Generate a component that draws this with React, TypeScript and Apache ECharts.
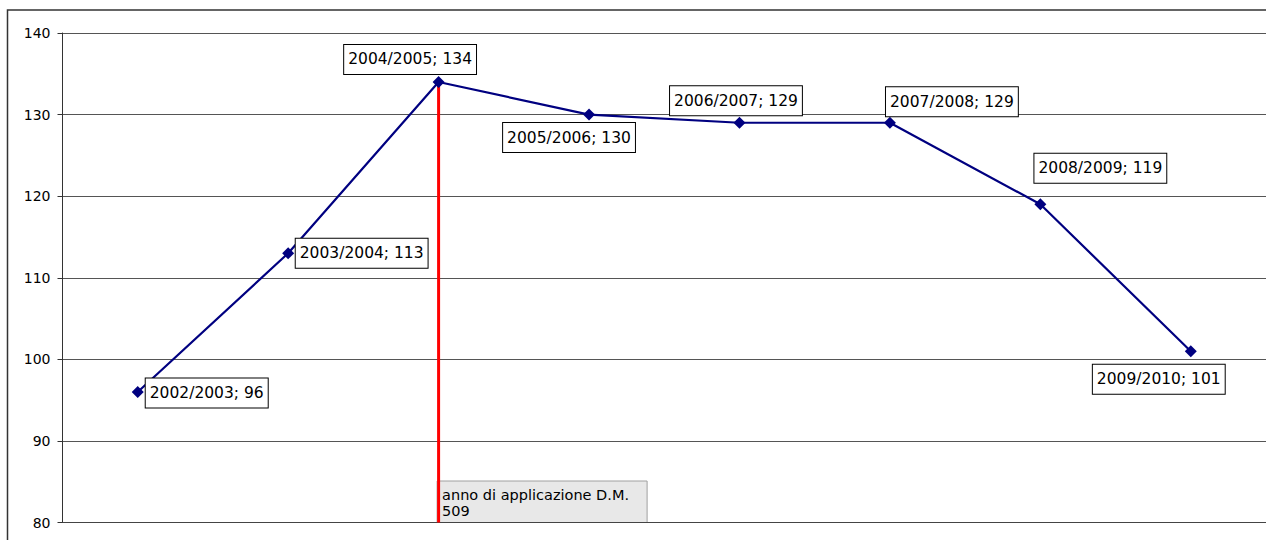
import React, { useEffect, useRef } from "react";
import * as echarts from "echarts";

const categories = [
  "2002/2003",
  "2003/2004",
  "2004/2005",
  "2005/2006",
  "2006/2007",
  "2007/2008",
  "2008/2009",
  "2009/2010",
];
const values = [96, 113, 134, 130, 129, 129, 119, 101];

const yMin = 80;
const yMax = 140;
const yInterval = 10;

const markerCategory = "2004/2005";
const markerTop = 134;
const markerBottom = 80;
const annotationText = "anno di applicazione D.M.\n509";

// label box centre offsets relative to each point (styling only)
const labelOffsets: [number, number][] = [
  [69, 1],
  [73.5, 0],
  [-28.5, -22.5],
  [-20, 23],
  [-3.5, -22],
  [62, -21],
  [60, -36],
  [-32, 28],
];

const FONT = "'DejaVu Sans', Verdana, sans-serif";

export default function App() {
  const ref = useRef<HTMLDivElement>(null);

  useEffect(() => {
    if (!ref.current) return;
    const chart = echarts.init(ref.current, undefined, { renderer: "svg" });

    const option: any = {
      animation: false,
      backgroundColor: "#ffffff",
      grid: { left: 62.5, top: 33, right: 0, bottom: 17.5, containLabel: false },
      xAxis: {
        type: "category",
        data: categories,
        boundaryGap: true,
        axisLine: { show: true, lineStyle: { color: "#444", width: 1 } },
        axisTick: { show: false },
        axisLabel: { show: false },
        splitLine: { show: false },
      },
      yAxis: {
        type: "value",
        min: yMin,
        max: yMax,
        interval: yInterval,
        axisLine: { show: true, lineStyle: { color: "#333", width: 1 } },
        axisTick: { show: true, length: 5, lineStyle: { color: "#333" } },
        axisLabel: {
          color: "#000",
          fontSize: 14,
          fontFamily: FONT,
          margin: 12,
        },
        splitLine: { show: true, lineStyle: { color: "#555", width: 1 } },
      },
      series: [
        {
          type: "line",
          z: 1,
          data: [
            [markerCategory, markerTop],
            [markerCategory, markerBottom],
          ],
          symbol: "none",
          lineStyle: { color: "#ff0000", width: 3 },
          label: { show: false },
          silent: true,
        },
        {
          type: "line",
          z: 3,
          data: values.map((v, i) => ({
            value: v,
            label: { offset: labelOffsets[i] },
          })),
          symbol: "diamond",
          symbolSize: 12,
          itemStyle: { color: "#000080" },
          lineStyle: { color: "#000080", width: 2.2 },
          label: {
            show: true,
            position: "inside",
            formatter: "{b}; {c}",
            color: "#000",
            fontSize: 15.5,
            fontFamily: FONT,
            lineHeight: 18,
            backgroundColor: "#ffffff",
            borderColor: "#000",
            borderWidth: 1,
            padding: [6, 4, 5, 4],
          },
        },
      ],
    };
    chart.setOption(option);

    const p = chart.convertToPixel({ xAxisIndex: 0, yAxisIndex: 0 }, [
      markerCategory,
      markerBottom,
    ]) as number[];

    chart.setOption({
      graphic: [
        {
          type: "polyline",
          z: 100,
          shape: {
            points: [
              [7.5, 540],
              [7.5, 10],
              [1266, 10],
            ],
          },
          style: { fill: "none", stroke: "#333", lineWidth: 1.5 },
          silent: true,
        },
        {
          type: "group",
          z: 50,
          x: p[0] - 1.5,
          y: p[1] - 41.5,
          children: [
            {
              type: "rect",
              shape: { x: 0, y: 0, width: 210, height: 41.5 },
              style: { fill: "#e8e8e8", stroke: "#a0a0a0", lineWidth: 1 },
            },
            {
              type: "text",
              x: 5,
              y: 6,
              style: {
                text: annotationText,
                fill: "#000",
                fontSize: 14.5,
                fontFamily: FONT,
                lineHeight: 16,
              },
            },
          ],
        },
      ],
    });

    return () => chart.dispose();
  }, []);

  return (
    <div
      ref={ref}
      style={{
        position: "absolute",
        left: 0,
        top: 0,
        width: 1266,
        height: 540,
        overflow: "hidden",
      }}
    />
  );
}
